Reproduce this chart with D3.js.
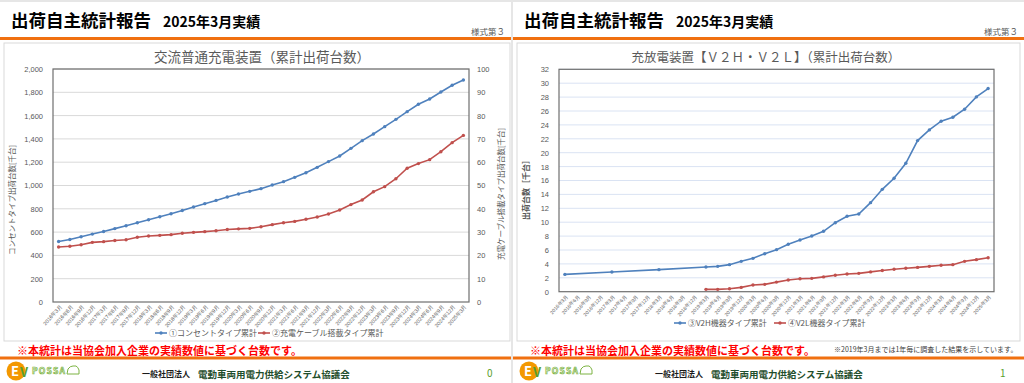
<!DOCTYPE html>
<html><head><meta charset="utf-8">
<script src="https://cdn.jsdelivr.net/npm/d3@7"></script>
<style>
html,body{margin:0;padding:0;background:#e6e6e6;}
svg{display:block;font-family:"Noto Sans CJK JP","Noto Sans",sans-serif;}
</style></head>
<body><svg id="c" width="1024" height="383"></svg>
<script>
// ---------- data ----------
const categories = ["2016年3月","2016年6月","2016年9月","2016年12月","2017年3月","2017年6月","2017年9月","2017年12月","2018年3月","2018年6月","2018年9月","2018年12月","2019年3月","2019年6月","2019年9月","2019年12月","2020年3月","2020年6月","2020年9月","2020年12月","2021年3月","2021年6月","2021年9月","2021年12月","2022年3月","2022年6月","2022年9月","2022年12月","2023年3月","2023年6月","2023年9月","2023年12月","2024年3月","2024年6月","2024年9月","2024年12月","2025年3月"];
// ① outlet type cumulative (left axis, thousand units)
const outletValues = [519,537,560,583,605,630,654,680,706,732,758,786,815,844,872,901,927,950,973,1004,1033,1070,1110,1156,1205,1253,1319,1385,1442,1505,1568,1634,1697,1743,1803,1860,1906];
// ② charging-cable type cumulative (right axis, thousand units)
const cableValues = [23.6,23.9,24.6,25.6,25.9,26.4,26.7,27.8,28.3,28.6,28.9,29.5,29.9,30.2,30.6,31.1,31.4,31.6,32.3,33.2,34.0,34.6,35.5,36.5,37.8,39.5,41.8,43.8,47.3,49.5,52.9,57.4,59.4,61.1,64.5,68.4,71.5];
// ③ V2H cumulative
const v2hValues = [2.49,null,null,null,2.83,null,null,null,3.17,null,null,null,3.56,3.65,3.89,4.37,4.80,5.47,6.05,6.82,7.44,8.02,8.69,9.93,10.85,11.18,12.81,14.73,16.32,18.48,21.74,23.28,24.53,25.10,26.26,28.03,29.23];
// ④ V2L cumulative
const v2lValues = [null,null,null,null,null,null,null,null,null,null,null,null,0.34,0.34,0.43,0.62,0.96,1.06,1.38,1.68,1.87,1.92,2.13,2.36,2.55,2.64,2.85,3.05,3.22,3.38,3.50,3.65,3.80,3.89,4.37,4.61,4.89];
const leftTicks = [0,200,400,600,800,1000,1200,1400,1600,1800,2000];
const rightTicks = [0,10,20,30,40,50,60,70,80,90,100];
const v2Ticks = [0,2,4,6,8,10,12,14,16,18,20,22,24,26,28,30,32];
const seriesNames = ["①コンセントタイプ累計","②充電ケーブル搭載タイプ累計","③V2H機器タイプ累計","④V2L機器タイプ累計"];

// ---------- drawing ----------
const svg = d3.select("#c");
const BLUE = "#4f81bd", RED = "#c0504d", ORANGE = "#f07010", GRAY = "#595959";

function slideFrame(ox, w, page) {
  const g = svg.append("g").attr("transform", `translate(${ox},0)`);
  g.append("rect").attr("x",0).attr("y",2).attr("width",w).attr("height",381).attr("fill","#fff");
  g.append("text").attr("x",11).attr("y",27).attr("font-size",17.5).attr("font-weight","bold").attr("fill","#000").text("出荷自主統計報告");
  g.append("text").attr("x",163).attr("y",27).attr("font-size",14).attr("font-weight","bold").attr("fill","#000").text("2025年3月実績");
  g.append("text").attr("x",w-6).attr("y",35).attr("font-size",8.5).attr("text-anchor","end").attr("fill",GRAY).text("様式第３");
  g.append("line").attr("x1",0).attr("x2",w).attr("y1",38.5).attr("y2",38.5).attr("stroke",ORANGE).attr("stroke-width",3);
  g.append("line").attr("x1",0).attr("x2",w).attr("y1",358).attr("y2",358).attr("stroke",ORANGE).attr("stroke-width",3);
  g.append("text").attr("x",17).attr("y",355).attr("font-size",11).attr("font-weight","bold").attr("fill","#ff0000").text("※本統計は当協会加入企業の実績数値に基づく台数です。");
  // logo
  const lg = g.append("g").attr("transform","translate(7,360)");
  lg.append("circle").attr("cx",9).attr("cy",11).attr("r",9.5).attr("fill","#f39800");
  lg.append("text").attr("x",4).attr("y",16).attr("font-size",13).attr("font-weight","bold").attr("fill","#fff").text("E");
  lg.append("text").attr("x",13).attr("y",17).attr("font-size",13).attr("font-weight","bold").attr("fill","#5aa02c").text("V");
  lg.append("text").attr("x",25).attr("y",14).attr("font-size",8.5).attr("font-weight","bold").attr("letter-spacing",1.2)
    .attr("fill","#fff").attr("stroke","#7cb342").attr("stroke-width",0.7).text("POSSA");
  lg.append("path").attr("d","M60 14 L61 9 Q63 6 66 6 L69 6 Q71 7 72 10 L72 14 Z").attr("fill","none").attr("stroke","#7cb342").attr("stroke-width",1);
  g.append("text").attr("x",142).attr("y",377).attr("font-size",8).attr("font-weight","bold").attr("fill","#1a1a1a").text("一般社団法人");
  g.append("text").attr("x",198).attr("y",378).attr("font-size",9.5).attr("font-weight","bold").attr("fill","#1f4e2c").text("電動車両用電力供給システム協議会");
  g.append("text").attr("x",w-24).attr("y",377).attr("font-size",10).attr("fill","#5aa02c").text(page);
  return g;
}

function xLabels(axisG, fs) {
  axisG.select(".domain").remove();
  axisG.selectAll("text")
    .attr("x",0).attr("y",0).attr("dy","0.35em")
    .attr("transform","translate(2,4) rotate(-48)")
    .style("text-anchor","end").attr("font-size",fs).attr("fill",GRAY);
}

function drawLine(g, x, y, values, color) {
  const pts = values.map((v,i)=>({c:categories[i], v})).filter(d=>d.v!==null);
  const cx = d => x(d.c) + x.bandwidth()/2;
  g.append("path").datum(pts)
    .attr("d", d3.line().x(cx).y(d=>y(d.v)))
    .attr("fill","none").attr("stroke",color).attr("stroke-width",1.6);
  g.selectAll(null).data(pts).enter().append("circle")
    .attr("cx",cx).attr("cy",d=>y(d.v)).attr("r",1.7).attr("fill",color);
}

function legendItem(g, x, y, color, label) {
  g.append("line").attr("x1",x).attr("x2",x+12).attr("y1",y).attr("y2",y).attr("stroke",color).attr("stroke-width",1.6);
  g.append("circle").attr("cx",x+6).attr("cy",y).attr("r",1.7).attr("fill",color);
  g.append("text").attr("x",x+14).attr("y",y+3).attr("font-size",8).attr("fill",GRAY).text(label);
}

// ----- left slide -----
{
  const g = slideFrame(0, 511, "0");
  g.append("rect").attr("x",4).attr("y",43).attr("width",506).attr("height",298).attr("fill","#fff").attr("stroke","#d9d9d9");
  g.append("text").attr("x",262).attr("y",62).attr("text-anchor","middle").attr("font-size",13.5).attr("fill",GRAY).text("交流普通充電装置（累計出荷台数）");
  const L=53, R=469, T=69, B=302;
  const x = d3.scaleBand().domain(categories).range([L,R]).padding(0);
  const yL = d3.scaleLinear().domain([0,2000]).range([B,T]);
  const yR = d3.scaleLinear().domain([0,100]).range([B,T]);
  g.selectAll(null).data(leftTicks.slice(1)).enter().append("line")
    .attr("x1",L).attr("x2",R).attr("y1",d=>yL(d)).attr("y2",d=>yL(d)).attr("stroke","#d9d9d9").attr("stroke-width",1);
  const ay = g.append("g").attr("transform",`translate(${L},0)`)
    .call(d3.axisLeft(yL).tickValues(leftTicks).tickFormat(d3.format(",")).tickSize(0).tickPadding(10));
  ay.select(".domain").remove();
  ay.selectAll("text").attr("font-size",7.5).attr("fill",GRAY);
  const ay2 = g.append("g").attr("transform",`translate(${R},0)`)
    .call(d3.axisRight(yR).tickValues(rightTicks).tickSize(0).tickPadding(8));
  ay2.select(".domain").remove();
  ay2.selectAll("text").attr("font-size",7.5).attr("fill",GRAY);
  const ax = g.append("g").attr("transform",`translate(0,${B})`).call(d3.axisBottom(x).tickSize(0));
  xLabels(ax, 5.3);
  g.append("rect").attr("x",L).attr("y",T).attr("width",R-L).attr("height",B-T).attr("fill","none").attr("stroke","#6f6f6f").attr("stroke-width",1.2);
  drawLine(g, x, yL, outletValues, BLUE);
  drawLine(g, x, yR, cableValues, RED);
  g.append("text").attr("transform","translate(15,200) rotate(-90)").attr("text-anchor","middle").attr("font-size",7.5).attr("fill",GRAY).text("コンセントタイプ出荷台数[千台]");
  g.append("text").attr("transform","translate(504,194) rotate(-90)").attr("text-anchor","middle").attr("font-size",7.5).attr("fill",GRAY).text("充電ケーブル搭載タイプ出荷台数[千台]");
  legendItem(g, 155, 333, BLUE, seriesNames[0]);
  legendItem(g, 258, 333, RED, seriesNames[1]);
}

// ----- right slide -----
{
  const ox = 513;
  const g = slideFrame(ox, 511, "1");
  g.append("rect").attr("x",4).attr("y",43).attr("width",503).attr("height",298).attr("fill","#fff").attr("stroke","#d9d9d9");
  g.append("text").attr("x",253).attr("y",62).attr("text-anchor","middle").attr("font-size",12.5).attr("fill",GRAY).text("充放電装置【Ｖ２Ｈ・Ｖ２Ｌ】（累計出荷台数）");
  const L=46, R=481, T=69.3, B=291.7;
  const x = d3.scaleBand().domain(categories).range([L,R]).padding(0);
  const y = d3.scaleLinear().domain([0,32]).range([B,T]);
  g.selectAll(null).data(v2Ticks.slice(1)).enter().append("line")
    .attr("x1",L).attr("x2",R).attr("y1",d=>y(d)).attr("y2",d=>y(d)).attr("stroke","#dae3f3").attr("stroke-width",1);
  const ay = g.append("g").attr("transform",`translate(${L},0)`)
    .call(d3.axisLeft(y).tickValues(v2Ticks).tickSize(0).tickPadding(10));
  ay.select(".domain").remove();
  ay.selectAll("text").attr("font-size",7.5).attr("fill",GRAY);
  const ax = g.append("g").attr("transform",`translate(0,${B})`).call(d3.axisBottom(x).tickSize(0));
  xLabels(ax, 5);
  g.append("rect").attr("x",L).attr("y",T).attr("width",R-L).attr("height",B-T).attr("fill","none").attr("stroke","#6f6f6f").attr("stroke-width",1.2);
  drawLine(g, x, y, v2hValues, BLUE);
  drawLine(g, x, y, v2lValues, RED);
  g.append("text").attr("transform","translate(16,188) rotate(-90)").attr("text-anchor","middle").attr("font-size",8).attr("font-weight","bold").attr("fill",GRAY).text("出荷台数［千台］");
  legendItem(g, 161, 323, BLUE, seriesNames[2]);
  legendItem(g, 261, 323, RED, seriesNames[3]);
  g.append("text").attr("x",321).attr("y",352).attr("font-size",7).attr("fill","#404040").text("※2019年3月までは1年毎に調査した結果を示しています。");
}
</script></body></html>
